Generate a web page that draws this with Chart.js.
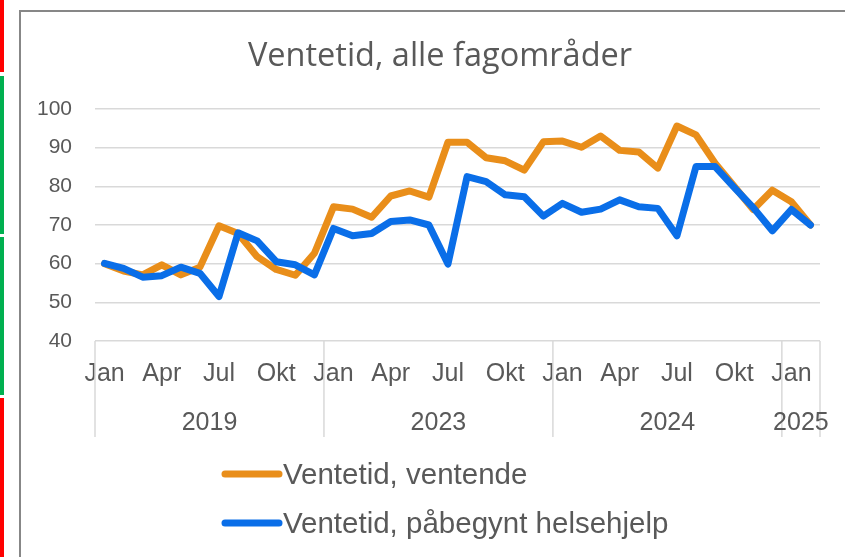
<!DOCTYPE html>
<html>
<head>
<meta charset="utf-8">
<script src="https://cdn.jsdelivr.net/npm/chart.js@4.4.3/dist/chart.umd.min.js"></script>
<style>
  html, body { margin: 0; padding: 0; background: #fff; overflow: hidden; }
  #wrap { position: relative; width: 845px; height: 557px; overflow: hidden; }
  #chart { position: absolute; left: 0; top: 0; }
  .frame { position: absolute; left: 18.5px; top: 9.5px; width: 1200px; height: 800px; border-left: 2px solid #878787; border-top: 2px solid #878787; box-sizing: border-box; }
  .strip { position: absolute; left: 0; width: 4px; }
</style>
</head>
<body>
<div id="wrap">
  <div class="strip" style="top:0;height:72px;background:#ff0000"></div>
  <div class="strip" style="top:76px;height:158px;background:#00b050"></div>
  <div class="strip" style="top:237px;height:158px;background:#00b050"></div>
  <div class="strip" style="top:398px;height:159px;background:#ff0000"></div>
  <div class="frame"></div>
  <canvas id="chart" width="845" height="557"></canvas>
</div>
<script>
  'use strict';

  var TITLE = 'Ventetid, alle fagområder';
  var MONTHS = ['Jan', 'Feb', 'Mar', 'Apr', 'Mai', 'Jun', 'Jul', 'Aug', 'Sep', 'Okt', 'Nov', 'Des'];
  var YEARS = ['2019', '2023', '2024', '2025'];
  var MONTHS_PER_YEAR = [12, 12, 12, 2];
  var SHOWN_MONTHS = ['Jan', 'Apr', 'Jul', 'Okt'];

  var SERIES_NAMES = ['Ventetid, ventende', 'Ventetid, påbegynt helsehjelp'];
  var SERIES_COLORS = ['#e98e1a', '#0a6ee8'];

  var ventende = [
    60.0, 58.1, 57.1, 59.7, 57.1, 59.1, 69.8, 67.8, 61.8, 58.5, 57.0, 62.7,
    74.7, 74.1, 72.0, 77.5, 78.8, 77.2, 91.4, 91.4, 87.4, 86.6, 84.2, 91.5,
    91.7, 90.1, 93.0, 89.3, 88.9, 84.7, 95.6, 93.3, 86.0, 80.0, 74.0, 79.0,
    76.0, 70.0
  ];
  var pabegynt = [
    60.1, 58.8, 56.5, 56.9, 59.1, 57.5, 51.5, 68.0, 65.9, 60.5, 59.7, 57.1,
    69.1, 67.2, 67.8, 70.9, 71.3, 70.0, 59.9, 82.5, 81.2, 77.8, 77.3, 72.3,
    75.6, 73.3, 74.1, 76.5, 74.7, 74.3, 67.2, 85.1, 85.1, 79.7, 74.5, 68.5,
    74.0, 70.0
  ];

  var Y_MIN = 40, Y_MAX = 100, Y_STEP = 10;
  var TEXT = '#595959';
  var GRID = '#d9d9d9';
  var FONT = '"Liberation Sans", Arial, sans-serif';

  // category labels: month + year for each point
  var labels = [];
  YEARS.forEach(function (y, k) {
    for (var m = 0; m < MONTHS_PER_YEAR[k]; m++) {
      labels.push(MONTHS[m] + ' ' + y);
    }
  });

  var decorPlugin = {
    id: 'decor',
    afterDraw: function (chart) {
      var ctx = chart.ctx;
      var xs = chart.scales.x;
      var area = chart.chartArea;
      var step = xs.getPixelForValue(1) - xs.getPixelForValue(0);

      ctx.save();
      // title
      ctx.fillStyle = TEXT;
      ctx.textAlign = 'center';
      ctx.textBaseline = 'alphabetic';
      ctx.font = '32.5px "Open Sans", sans-serif';
      ctx.fillText(TITLE, 440, 66);

      // month labels, every third month
      ctx.font = '25px ' + FONT;
      labels.forEach(function (l, i) {
        var mName = l.split(' ')[0];
        if (SHOWN_MONTHS.indexOf(mName) >= 0) {
          ctx.fillText(mName, xs.getPixelForValue(i), 381);
        }
      });

      // year groups with dividers
      ctx.strokeStyle = GRID;
      ctx.lineWidth = 1.5;
      var start = 0;
      YEARS.forEach(function (y, k) {
        var end = start + MONTHS_PER_YEAR[k] - 1;
        var x0 = xs.getPixelForValue(start) - step / 2;
        var x1 = xs.getPixelForValue(end) + step / 2;
        ctx.beginPath();
        ctx.moveTo(x0, area.bottom);
        ctx.lineTo(x0, 437);
        ctx.stroke();
        if (k === YEARS.length - 1) {
          ctx.beginPath();
          ctx.moveTo(x1, area.bottom);
          ctx.lineTo(x1, 437);
          ctx.stroke();
        }
        ctx.fillText(y, (x0 + x1) / 2, 430);
        start = end + 1;
      });

      // legend
      ctx.textAlign = 'left';
      ctx.font = '29.5px ' + FONT;
      var legendY = [474, 523];
      SERIES_NAMES.forEach(function (name, i) {
        ctx.strokeStyle = SERIES_COLORS[i];
        ctx.lineWidth = 7;
        ctx.lineCap = 'round';
        ctx.beginPath();
        ctx.moveTo(225, legendY[i]);
        ctx.lineTo(279, legendY[i]);
        ctx.stroke();
        ctx.fillStyle = TEXT;
        ctx.fillText(name, 283, legendY[i] + 10);
      });
      ctx.restore();
    }
  };

  new Chart(document.getElementById('chart'), {
    type: 'line',
    data: {
      labels: labels,
      datasets: [
        {
          label: SERIES_NAMES[0],
          data: ventende,
          borderColor: SERIES_COLORS[0],
          backgroundColor: SERIES_COLORS[0],
          borderWidth: 7,
          pointRadius: 0,
          tension: 0,
          borderJoinStyle: 'round',
          borderCapStyle: 'round',
          order: 2
        },
        {
          label: SERIES_NAMES[1],
          data: pabegynt,
          borderColor: SERIES_COLORS[1],
          backgroundColor: SERIES_COLORS[1],
          borderWidth: 7,
          pointRadius: 0,
          tension: 0,
          borderJoinStyle: 'round',
          borderCapStyle: 'round',
          order: 1
        }
      ]
    },
    options: {
      responsive: false,
      animation: false,
      layout: { padding: { left: 0, right: 25, top: 109, bottom: 0 } },
      plugins: {
        legend: { display: false },
        title: { display: false },
        tooltip: { enabled: false }
      },
      scales: {
        x: {
          offset: true,
          grid: { display: false },
          border: { display: false },
          ticks: { display: false },
          afterFit: function (s) { s.height = 216; }
        },
        y: {
          min: Y_MIN,
          max: Y_MAX,
          ticks: {
            stepSize: Y_STEP,
            color: TEXT,
            padding: 23,
            font: { family: FONT, size: 21 }
          },
          grid: { color: GRID, lineWidth: 1.5, drawTicks: false },
          border: { display: false },
          afterFit: function (s) { s.width = 95; }
        }
      }
    },
    plugins: [decorPlugin]
  });
</script>
</body>
</html>
